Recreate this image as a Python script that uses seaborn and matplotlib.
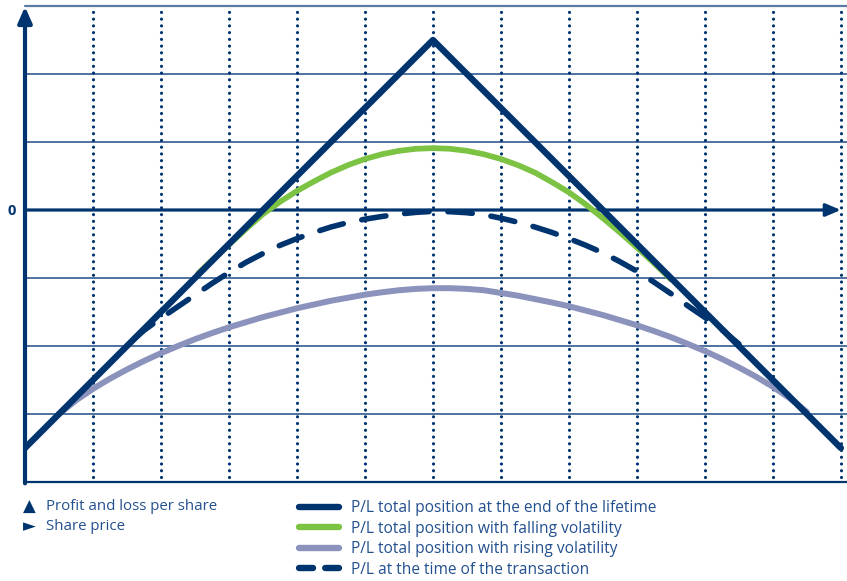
import matplotlib
matplotlib.use('Agg')
import matplotlib.pyplot as plt
import seaborn as sns
from matplotlib.lines import Line2D

# x in grid columns (0..12), y in grid rows (zero line = 0).
payoff_x = [0, 6, 12]
payoff_y = [-3.5, 2.5, -3.5]

falling_x = [2.55, 2.75, 3.0, 3.25, 3.5, 3.75, 4.0, 4.25, 4.5, 4.75, 5.0, 5.25, 5.5, 5.75, 6.0,
             6.25, 6.5, 6.75, 7.0, 7.25, 7.5, 7.75, 8.0, 8.25, 8.5, 8.75, 9.0, 9.25, 9.5]
falling_y = [-0.93, -0.74, -0.51, -0.28, -0.06, 0.12, 0.28, 0.42, 0.55, 0.66, 0.75, 0.82, 0.87, 0.90, 0.91,
             0.90, 0.87, 0.82, 0.75, 0.66, 0.55, 0.41, 0.26, 0.08, -0.12, -0.33, -0.55, -0.78, -1.02]

rising_x = [0.5, 0.75, 1.0, 1.25, 1.5, 1.75, 2.0, 2.25, 2.5, 2.75, 3.0, 3.25, 3.5, 3.75, 4.0, 4.25,
            4.5, 4.75, 5.0, 5.25, 5.5, 5.75, 6.0, 6.25, 6.5, 6.75, 7.0, 7.25, 7.5, 7.75, 8.0, 8.25,
            8.5, 8.75, 9.0, 9.25, 9.5, 9.75, 10.0, 10.25, 10.5, 10.75, 11.0, 11.25, 11.5]
rising_y = [-3.0, -2.80, -2.63, -2.48, -2.345, -2.22, -2.105, -2.0, -1.90, -1.81, -1.725, -1.65,
            -1.575, -1.51, -1.445, -1.39, -1.335, -1.29, -1.245, -1.21, -1.18, -1.16, -1.15, -1.15,
            -1.16, -1.18, -1.22, -1.26, -1.31, -1.36, -1.415, -1.48, -1.545, -1.62, -1.695, -1.78,
            -1.87, -1.97, -2.075, -2.19, -2.315, -2.45, -2.60, -2.77, -2.97]

trade_x = [1.6, 1.75, 2.0, 2.25, 2.5, 2.75, 3.0, 3.25, 3.5, 3.75, 4.0, 4.25, 4.5, 4.75, 5.0, 5.25,
           5.5, 5.75, 6.0, 6.25, 6.5, 6.75, 7.0, 7.25, 7.5, 7.75, 8.0, 8.25, 8.5, 8.75, 9.0, 9.25,
           9.5, 9.75, 10.0, 10.25, 10.5]
trade_y = [-1.90, -1.77, -1.59, -1.42, -1.25, -1.08, -0.92, -0.77, -0.64, -0.52, -0.42, -0.33,
           -0.25, -0.185, -0.135, -0.095, -0.06, -0.035, -0.02, -0.025, -0.04, -0.07, -0.12, -0.18,
           -0.25, -0.33, -0.42, -0.52, -0.63, -0.76, -0.90, -1.06, -1.23, -1.41, -1.58, -1.76, -1.97]

grid_rows = [-3, -2, -1, 1, 2]
grid_cols = list(range(1, 13))

labels = ["P/L total position at the end of the lifetime",
          "P/L total position with falling volatility",
          "P/L total position with rising volatility",
          "P/L at the time of the transaction"]

navy = '#00346f'
green = '#7cc243'
purple = '#8b93bd'
textc = '#23508e'

sns.set_theme(style='white')
plt.rcParams['font.family'] = ['Open Sans', 'DejaVu Sans']

W, H = 847, 581
fig = plt.figure(figsize=(W / 100, H / 100), dpi=100)
ax = fig.add_axes([25 / W, 1 - 482 / H, 1 - 25 / W, (482 - 6) / H])
ax.set_xlim(0, 12.09)
ax.set_ylim(-4, 3)
for s in ax.spines.values():
    s.set_visible(False)
ax.set_xticks([])
ax.set_yticks([])

# grid
for yv in grid_rows:
    ax.axhline(yv, color='#1f4b86', lw=1.1, zorder=1)
ax.axhline(3, color='#5b7ba6', lw=1.6, clip_on=False, zorder=1)
ax.axhline(-4, color=navy, lw=1.6, clip_on=False, zorder=1)
for xv in grid_cols:
    ax.plot([xv, xv], [-3.93, 2.95], color=navy, lw=2.3,
            linestyle=(0, (0.01, 2.1)), dash_capstyle='round', zorder=1)

# axes arrows
ax.annotate('', xy=(12.0, 0), xytext=(0, 0), annotation_clip=False,
            arrowprops=dict(arrowstyle='-|>,head_length=0.9,head_width=0.38',
                            color=navy, lw=2.3, shrinkA=0, shrinkB=0, mutation_scale=10))
ax.annotate('', xy=(0, 2.99), xytext=(0, -4.02), annotation_clip=False,
            arrowprops=dict(arrowstyle='-|>,head_length=0.95,head_width=0.42',
                            color=navy, lw=3.0, shrinkA=0, shrinkB=0, mutation_scale=10))

# curves
sns.lineplot(x=rising_x, y=rising_y, ax=ax, color=purple, lw=4.3, sort=False, estimator=None, zorder=3)
sns.lineplot(x=falling_x, y=falling_y, ax=ax, color=green, lw=4.1, sort=False, estimator=None, zorder=3)
sns.lineplot(x=trade_x, y=trade_y, ax=ax, color=navy, lw=4.0, sort=False, estimator=None, zorder=3)
ax.lines[-1].set_linestyle((0, (4.4, 3.4)))
ax.lines[-1].set_dash_capstyle('round')
sns.lineplot(x=payoff_x, y=payoff_y, ax=ax, color=navy, lw=4.6, sort=False, estimator=None, zorder=4)

fig.text(12 / W, 1 - 211 / H, '0', ha='center', va='center', fontsize=10.5,
         fontweight='bold', color=navy)

# legends
fig.text(23 / W, 1 - 507 / H, '\u25B2', ha='left', va='center', fontsize=12, color=navy,
         family='DejaVu Sans')
fig.text(23 / W, 1 - 526 / H, '\u25BA', ha='left', va='center', fontsize=12, color=navy,
         family='DejaVu Sans')
fig.text(46 / W, 1 - 507 / H, 'Profit and loss per share', ha='left', va='center',
         fontsize=10.8, color=textc)
fig.text(46 / W, 1 - 526 / H, 'Share price', ha='left', va='center',
         fontsize=10.8, color=textc)

handles = [Line2D([], [], color=navy, lw=4.6, solid_capstyle='round'),
           Line2D([], [], color=green, lw=4.6, solid_capstyle='round'),
           Line2D([], [], color=purple, lw=4.6, solid_capstyle='round'),
           Line2D([], [], color=navy, lw=4.6, linestyle=(0, (2.2, 1.9)), dash_capstyle='round')]
leg = fig.legend(handles, labels, loc='upper left', bbox_to_anchor=(299 / W, 1 - 500.5 / H),
                 frameon=False, borderpad=0, borderaxespad=0, handlelength=2.55,
                 handletextpad=0.82, labelspacing=0.28, fontsize=11.2)
for t in leg.get_texts():
    t.set_color(textc)

fig.savefig('out.png', dpi=100)
